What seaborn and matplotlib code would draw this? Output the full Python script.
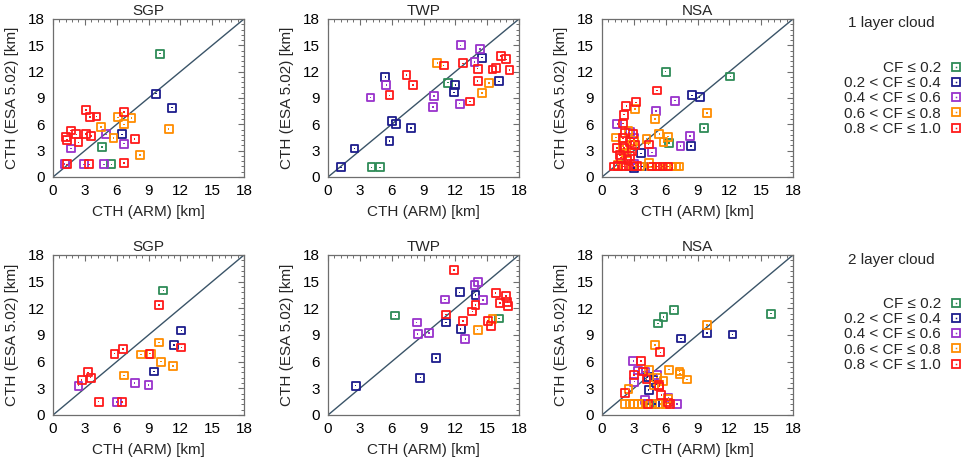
import numpy as np
import pandas as pd
import seaborn as sns
import matplotlib.pyplot as plt
from matplotlib.lines import Line2D
from matplotlib.ticker import MultipleLocator

# cloud fraction classes
cf_labels = ['CF ≤ 0.2', '0.2 < CF ≤ 0.4', '0.4 < CF ≤ 0.6', '0.6 < CF ≤ 0.8', '0.8 < CF ≤ 1.0']
cf_colors = ['#2e8b57', '#1c1c8c', '#9932cc', '#ff8c00', '#ff1a1a']

# 1 layer cloud
sgp1_x = [10.1, 5.5, 4.6,
          9.7, 11.2, 6.5,
          1.7, 1.1, 2.9, 4.8, 5.0, 6.7,
          4.5, 6.1, 7.4, 6.7, 5.7, 8.2, 10.9,
          3.1, 3.5, 4.1, 6.7, 1.7, 1.2, 1.3, 2.2, 2.4, 3.1, 3.6, 7.7, 1.3, 3.4, 6.7]
sgp1_y = [14.05, 1.44, 3.45,
          9.5, 7.9, 4.85,
          3.25, 1.5, 1.44, 1.44, 4.85, 3.8,
          5.7, 6.8, 6.75, 6.0, 4.45, 2.5, 5.5,
          7.6, 6.85, 6.9, 7.4, 5.3, 4.6, 4.2, 4.85, 3.95, 4.9, 4.65, 4.3, 1.44, 1.44, 1.6]
sgp1_cf = [0, 0, 0, 1, 1, 1, 2, 2, 2, 2, 2, 2, 3, 3, 3, 3, 3, 3, 3,
           4, 4, 4, 4, 4, 4, 4, 4, 4, 4, 4, 4, 4, 4, 4]

twp1_x = [4.1, 4.9, 11.3,
          1.2, 2.5, 5.4, 6.0, 6.4, 5.8, 7.8, 12.0, 11.9, 14.5, 16.1,
          4.0, 5.5, 10.0, 9.9, 12.5, 14.3, 13.8, 12.4,
          10.3, 15.2, 14.5,
          7.4, 8.0, 5.8, 10.9, 12.7, 14.1, 14.1, 13.4, 15.5, 15.8, 16.3, 16.8, 17.1]
twp1_y = [1.1, 1.1, 10.75,
          1.1, 3.25, 11.4, 6.4, 6.0, 4.1, 5.6, 10.5, 9.65, 13.6, 10.9,
          9.05, 10.45, 9.25, 8.0, 15.0, 14.6, 13.1, 8.35,
          13.0, 10.7, 9.6,
          11.65, 10.5, 9.3, 12.7, 12.95, 12.35, 10.95, 8.6, 12.25, 12.45, 13.8, 13.4, 12.2]
twp1_cf = [0, 0, 0, 1, 1, 1, 1, 1, 1, 1, 1, 1, 1, 1,
           2, 2, 2, 2, 2, 2, 2, 2, 3, 3, 3,
           4, 4, 4, 4, 4, 4, 4, 4, 4, 4, 4, 4, 4]

nsa1_x = [6.0, 12.1, 9.6, 6.3,
          8.5, 9.2, 8.4, 3.7, 3.75, 3.0,
          6.9, 5.1, 1.45, 2.6, 8.3, 7.4, 4.7, 3.0, 2.9, 3.0,
          3.1, 5.0, 9.9, 5.4, 6.2, 5.8, 4.2, 1.3, 2.5, 3.0, 2.8, 2.0, 2.3, 1.5, 2.2, 4.4,
          4.6, 5.5, 6.0, 6.5, 7.0, 7.3, 3.6,
          5.2, 3.2, 2.3, 2.1, 2.0, 2.95, 2.0, 1.4, 4.4, 2.6, 2.2, 1.7, 2.8, 2.1, 2.4,
          1.1, 1.5, 2.0, 2.5, 3.0, 3.3, 4.7, 5.2, 5.7, 6.2, 1.8, 2.6, 3.1]
nsa1_y = [12.0, 11.45, 5.55, 3.85,
          9.3, 9.1, 3.5, 2.7, 1.2, 1.0,
          8.7, 7.5, 6.05, 5.1, 4.7, 3.5, 2.8, 1.5, 1.2, 4.5,
          7.75, 6.6, 7.3, 4.9, 4.6, 4.0, 4.3, 4.5, 5.2, 4.1, 3.6, 3.5, 2.7, 1.4, 1.3, 1.6,
          1.2, 1.2, 1.2, 1.2, 1.2, 1.2, 1.2,
          9.85, 8.5, 8.1, 7.1, 6.1, 4.9, 4.4, 3.3, 3.7, 4.0, 5.0, 2.5, 2.9, 3.3, 1.9,
          1.2, 1.3, 1.2, 1.3, 1.2, 1.3, 1.2, 1.2, 1.2, 1.2, 2.2, 2.4, 3.6]
nsa1_cf = [0, 0, 0, 0, 1, 1, 1, 1, 1, 1,
           2, 2, 2, 2, 2, 2, 2, 2, 2, 2,
           3, 3, 3, 3, 3, 3, 3, 3, 3, 3, 3, 3, 3, 3, 3, 3, 3, 3, 3, 3, 3, 3, 3,
           4, 4, 4, 4, 4, 4, 4, 4, 4, 4, 4, 4, 4, 4, 4,
           4, 4, 4, 4, 4, 4, 4, 4, 4, 4, 4, 4, 4]

# 2 layer cloud
sgp2_x = [10.4,
          12.1, 11.4, 9.5,
          2.4, 7.7, 9.0, 6.05,
          10.0, 8.3, 9.2, 10.2, 11.3, 6.7,
          10.0, 5.8, 6.6, 9.1, 12.1, 3.3, 2.7, 3.55, 4.3, 6.5]
sgp2_y = [14.0,
          9.5, 7.9, 4.9,
          3.3, 3.6, 3.4, 1.47,
          8.15, 6.8, 6.9, 6.0, 5.5, 4.45,
          12.4, 6.9, 7.4, 6.9, 7.6, 4.8, 3.95, 4.2, 1.5, 1.47]
sgp2_cf = [0, 1, 1, 1, 2, 2, 2, 2, 3, 3, 3, 3, 3, 3,
           4, 4, 4, 4, 4, 4, 4, 4, 4, 4]

twp2_x = [6.35, 16.1,
          2.6, 8.7, 10.2, 12.4, 13.9, 11.1, 12.5,
          8.35, 8.45, 9.5, 11.05, 13.8, 14.1, 14.6, 12.95,
          14.1, 15.5,
          11.85, 11.1, 12.7, 13.6, 13.9, 15.8, 16.2, 16.8, 16.9, 17.0, 15.1, 15.35]
twp2_y = [11.2, 10.85,
          3.3, 4.2, 6.4, 13.8, 13.5, 10.4, 9.65,
          10.4, 9.1, 9.25, 13.0, 14.6, 15.0, 12.95, 8.55,
          9.6, 10.8,
          16.3, 11.3, 10.6, 11.65, 12.35, 13.75, 12.6, 13.4, 12.7, 12.3, 10.55, 10.05]
twp2_cf = [0, 0, 1, 1, 1, 1, 1, 1, 1,
           2, 2, 2, 2, 2, 2, 2, 2, 3, 3,
           4, 4, 4, 4, 4, 4, 4, 4, 4, 4, 4, 4]

nsa2_x = [6.75, 5.8, 5.3, 15.9, 4.4,
          7.45, 9.9, 12.3, 4.4, 4.85, 5.0, 4.3,
          2.95, 3.05, 3.4, 5.15, 4.05, 6.25, 7.05, 4.1,
          9.9, 5.0, 6.3, 7.3, 7.35, 8.0, 5.8, 4.4, 2.5, 6.25,
          2.2, 2.6, 3.0, 3.4, 3.8, 4.2, 4.6, 5.5, 6.0, 5.2, 4.9,
          5.5, 3.7, 3.0, 3.9, 4.2, 5.4, 5.6, 2.2, 6.25, 4.3, 6.4, 5.4]
nsa2_y = [11.85, 11.05, 10.3, 11.4, 1.25,
          8.6, 9.25, 9.05, 2.8, 3.9, 1.25, 4.3,
          6.05, 3.75, 5.0, 4.5, 1.7, 1.9, 1.25, 4.9,
          10.15, 7.85, 5.1, 4.9, 4.6, 4.0, 3.85, 5.1, 2.9, 1.8,
          1.25, 1.25, 1.25, 1.25, 1.25, 1.25, 1.25, 1.25, 1.25, 4.2, 3.4,
          7.05, 6.1, 4.5, 4.9, 4.0, 3.4, 2.25, 2.5, 1.4, 1.25, 1.25, 3.2]
nsa2_cf = [0, 0, 0, 0, 0, 1, 1, 1, 1, 1, 1, 1,
           2, 2, 2, 2, 2, 2, 2, 2,
           3, 3, 3, 3, 3, 3, 3, 3, 3, 3, 3, 3, 3, 3, 3, 3, 3, 3, 3, 3, 3,
           4, 4, 4, 4, 4, 4, 4, 4, 4, 4, 4, 4]

sites = ['SGP', 'TWP', 'NSA']
layer_titles = ['1 layer cloud', '2 layer cloud']

sns.set_theme(style='white')
plt.rcParams['font.family'] = ['Liberation Sans', 'DejaVu Sans']
plt.rcParams['font.size'] = 11

frame_col = '#6e6e6e'
diag_col = '#3a5468'
palette = dict(zip(range(5), cf_colors))


def draw_panel(ax, xs, ys, cfs, title):
    df = pd.DataFrame({'x': xs, 'y': ys, 'cf': cfs})
    ax.axline((0, 0), slope=1, color=diag_col, lw=1.0, zorder=1)
    sns.scatterplot(data=df, x='x', y='y', hue='cf', palette=palette, marker='s',
                    s=32, linewidth=1.3, legend=False, ax=ax, zorder=3)
    pts = ax.collections[-1]
    pts.set_edgecolors(pts.get_facecolors())
    pts.set_facecolors('none')
    # small dot in the middle of each square
    sns.scatterplot(data=df, x='x', y='y', hue='cf', palette=palette, marker='s',
                    s=1.3, linewidth=0, legend=False, ax=ax, zorder=4)

    ax.set_xlim(0, 18)
    ax.set_ylim(0, 18)
    ax.xaxis.set_major_locator(MultipleLocator(3))
    ax.yaxis.set_major_locator(MultipleLocator(3))
    ax.xaxis.set_minor_locator(MultipleLocator(0.6))
    ax.yaxis.set_minor_locator(MultipleLocator(0.6))
    ax.tick_params(which='both', direction='in', top=True, right=True,
                   color=frame_col, labelsize=11, labelcolor='black')
    ax.tick_params(which='major', length=4, width=0.8)
    ax.tick_params(which='minor', length=2, width=0.7)
    ax.tick_params(axis='x', pad=5)
    ax.tick_params(axis='y', pad=6)
    for sp in ax.spines.values():
        sp.set_color(frame_col)
        sp.set_linewidth(0.9)
    ax.set_title(title, fontsize=11, pad=3)
    ax.set_xlabel('CTH (ARM) [km]', fontsize=11, labelpad=5)
    ax.set_ylabel('CTH (ESA 5.02) [km]', fontsize=11, labelpad=6)


fig = plt.figure(figsize=(9.64, 4.63), dpi=100)

W, H = 964, 463
col_left = [53, 328, 602]
col_width = 191
row_top = [19, 255]
row_height = [158, 160]

panel_data = [
    [(sgp1_x, sgp1_y, sgp1_cf), (twp1_x, twp1_y, twp1_cf), (nsa1_x, nsa1_y, nsa1_cf)],
    [(sgp2_x, sgp2_y, sgp2_cf), (twp2_x, twp2_y, twp2_cf), (nsa2_x, nsa2_y, nsa2_cf)],
]

for r in range(2):
    for c in range(3):
        ax = fig.add_axes([col_left[c] / W, 1 - (row_top[r] + row_height[r]) / H,
                           col_width / W, row_height[r] / H])
        xs, ys, cfs = panel_data[r][c]
        draw_panel(ax, xs, ys, cfs, sites[c])

# legends, one per row
handles = []
for col in cf_colors:
    sq = Line2D([], [], ls='none', marker='s', ms=6, mfc='none', mec=col, mew=1.3)
    dot = Line2D([], [], ls='none', marker='s', ms=1.1, mfc=col, mec=col, mew=0)
    handles.append((sq, dot))

leg_title_y = [23, 260]
leg_top = [61, 297]
for r in range(2):
    fig.text(848 / W, 1 - leg_title_y[r] / H, layer_titles[r], fontsize=11,
             ha='left', va='center')
    fig.legend(handles, cf_labels, loc='upper right',
               bbox_to_anchor=(961 / W, 1 - leg_top[r] / H), markerfirst=False,
               frameon=False, fontsize=11, handlelength=0.6, handletextpad=0.7,
               labelspacing=0.08, borderpad=0, borderaxespad=0)

fig.savefig('out.png', dpi=100)
